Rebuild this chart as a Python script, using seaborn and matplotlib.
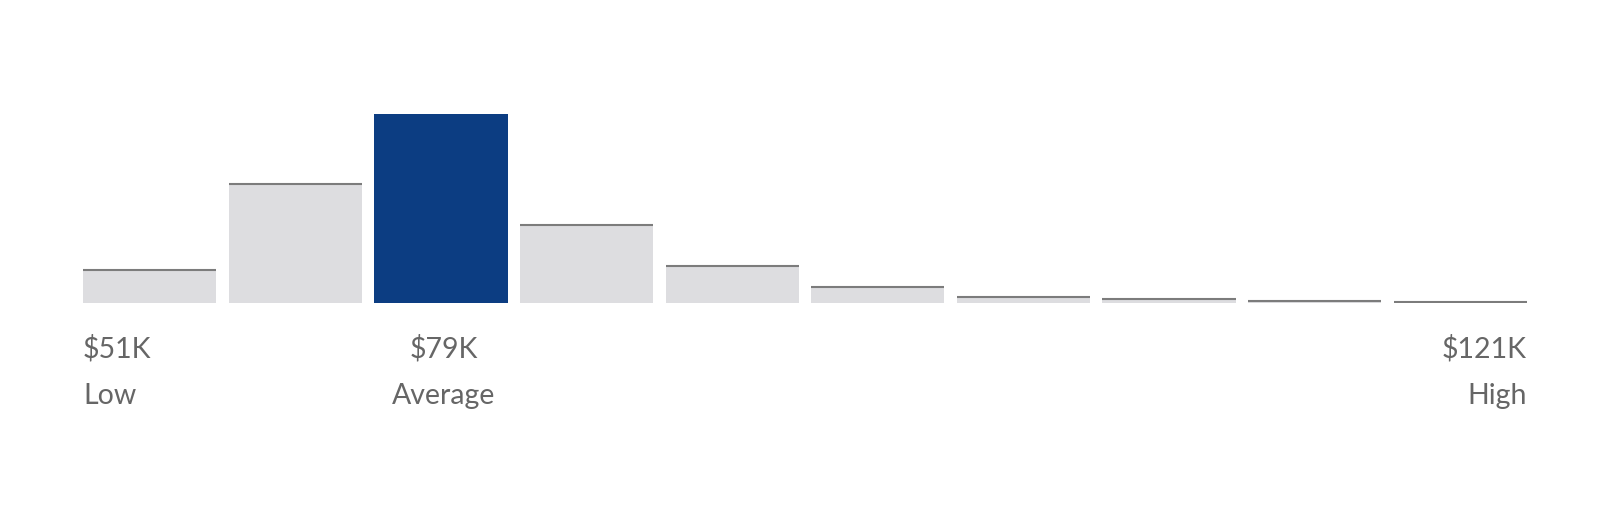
import matplotlib.pyplot as plt
import matplotlib.transforms as mtransforms
import numpy as np
import pandas as pd
import seaborn as sns

# salary distribution buckets (relative share)
buckets = [f"b{i}" for i in range(10)]
shares = [33, 119, 189, 78, 37, 16, 6, 4, 2, 1]
highlight = 2  # bucket holding the average

low_label, avg_label, high_label = "$51K", "$79K", "$121K"
sub_labels = ["Low", "Average", "High"]

grey = "#dddde0"
edge = "#7c7c7c"
blue = "#0c3d82"
text_col = "#666666"

sns.set_style("white")
plt.rcParams['font.family'] = ['Lato', 'DejaVu Sans']

df = pd.DataFrame({"bucket": buckets, "share": shares})
colors = [blue if i == highlight else grey for i in range(len(buckets))]

W, H = 1600, 513
fig = plt.figure(figsize=(W / 100, H / 100), dpi=100)
ax = fig.add_axes([83 / W, 1 - 303 / H, (1527 - 83) / W, (303 - 114) / H])

bw = 0.915
sns.barplot(data=df, x="bucket", y="share", hue="bucket", palette=colors,
            legend=False, width=bw, ax=ax, saturation=1, linewidth=0)

# darker rule on top of the grey bars
for i, v in enumerate(shares):
    if i != highlight:
        ax.hlines(v, i - bw / 2, i + bw / 2, color=edge, linewidth=1.5)

ax.set_xlim(-bw / 2, len(buckets) - 1 + bw / 2)
ax.set_ylim(0, max(shares))
ax.axis("off")

trans = mtransforms.blended_transform_factory(ax.transData, ax.transAxes)
y1 = -(349 - 303) / (303 - 114)
y2 = -(396 - 303) / (303 - 114)
fs = 20.5
ax.text(-bw / 2, y1, low_label, transform=trans, ha="left", va="center", fontsize=fs, color=text_col)
ax.text(-bw / 2, y2, sub_labels[0], transform=trans, ha="left", va="center", fontsize=fs, color=text_col)
ax.text(highlight + 0.02, y1, avg_label, transform=trans, ha="center", va="center", fontsize=fs, color=text_col)
ax.text(highlight + 0.02, y2, sub_labels[1], transform=trans, ha="center", va="center", fontsize=fs, color=text_col)
ax.text(len(buckets) - 1 + bw / 2, y1, high_label, transform=trans, ha="right", va="center", fontsize=fs, color=text_col)
ax.text(len(buckets) - 1 + bw / 2, y2, sub_labels[2], transform=trans, ha="right", va="center", fontsize=fs, color=text_col)

plt.savefig("out.png", dpi=100)
